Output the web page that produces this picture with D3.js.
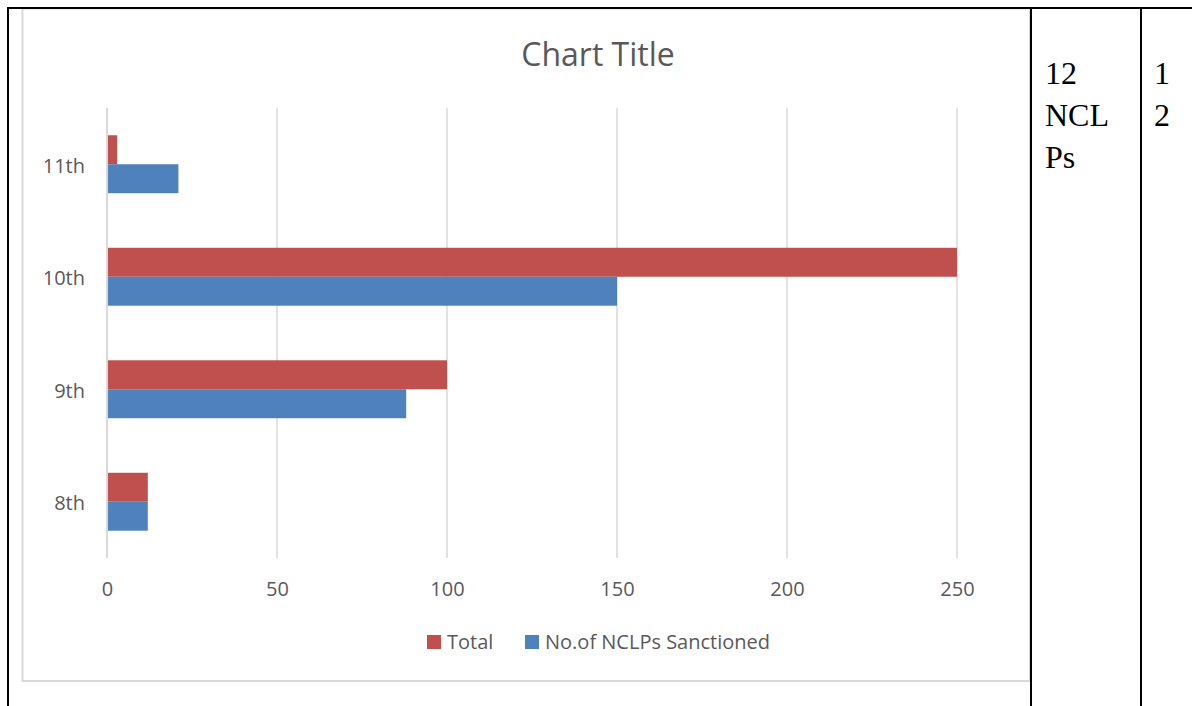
<!DOCTYPE html>
<html>
<head>
<meta charset="utf-8">
<script src="https://cdnjs.cloudflare.com/ajax/libs/d3/7.8.5/d3.min.js"></script>
<style>
  body { margin: 0; background: #fff; }
  svg { display: block; }
</style>
</head>
<body>
<script>
// ============= Data =============
const categories = ['8th', '9th', '10th', '11th'];
const totalValues = [12, 100, 250, 3];
const sanctionedValues = [12, 88, 150, 21];
const xTicks = [0, 50, 100, 150, 200, 250];
const seriesNames = ['Total', 'No.of NCLPs Sanctioned'];
const cellText1 = ['12', 'NCL', 'Ps'];
const cellText2 = ['1', '2'];

const width = 1192, height = 706;
const red = '#c0504d', blue = '#4f81bd', textColor = '#595959';

const svg = d3.select('body').append('svg')
  .attr('width', width)
  .attr('height', height);

// ============= Table frame =============
// chart area border (light grey)
svg.append('rect')
  .attr('x', 22.5).attr('y', 8.5)
  .attr('width', 1030 - 22.5).attr('height', 681 - 8.5)
  .attr('fill', 'none')
  .attr('stroke', '#d9d9d9')
  .attr('stroke-width', 2);

const frame = svg.append('g')
  .attr('stroke', '#000')
  .attr('stroke-width', 2);

frame.append('line').attr('x1', 7).attr('x2', width).attr('y1', 8).attr('y2', 8);
frame.append('line').attr('x1', 8).attr('x2', 8).attr('y1', 7).attr('y2', height);
frame.append('line').attr('x1', 1031).attr('x2', 1031).attr('y1', 7).attr('y2', height);
frame.append('line').attr('x1', 1141).attr('x2', 1141).attr('y1', 7).attr('y2', height);

// table cell text
const serif = '"Liberation Serif", "Times New Roman", serif';
svg.append('g').selectAll('text')
  .data(cellText1)
  .join('text')
  .attr('x', 1045)
  .attr('y', (d, i) => 84 + i * 42)
  .attr('font-family', serif)
  .attr('font-size', 32)
  .attr('fill', '#000')
  .text(d => d);

svg.append('g').selectAll('text')
  .data(cellText2)
  .join('text')
  .attr('x', 1154)
  .attr('y', (d, i) => 84 + i * 42)
  .attr('font-family', serif)
  .attr('font-size', 32)
  .attr('fill', '#000')
  .text(d => d);

// ============= Chart =============
const font = '"Open Sans", sans-serif';
const plot = {left: 107, right: 957, top: 108, bottom: 558};

const x = d3.scaleLinear()
  .domain([0, 250])
  .range([plot.left, plot.right]);

// categories run bottom-up like Excel
const y = d3.scaleBand()
  .domain(categories)
  .range([plot.bottom, plot.top])
  .paddingInner(0.485)
  .paddingOuter(0.2425);

const sub = d3.scaleBand()
  .domain(seriesNames)
  .range([0, y.bandwidth()]);

// title
svg.append('text')
  .attr('x', 598)
  .attr('y', 66)
  .attr('text-anchor', 'middle')
  .attr('font-family', font)
  .attr('font-size', 32)
  .attr('fill', textColor)
  .text('Chart Title');

// gridlines
svg.append('g').selectAll('line')
  .data(xTicks)
  .join('line')
  .attr('x1', d => x(d)).attr('x2', d => x(d))
  .attr('y1', plot.top).attr('y2', plot.bottom)
  .attr('stroke', '#d9d9d9')
  .attr('stroke-width', d => d === 0 ? 2 : 1.5);

// x axis labels
const xAxis = svg.append('g')
  .attr('transform', 'translate(0,' + plot.bottom + ')')
  .call(d3.axisBottom(x).tickValues(xTicks).tickSize(0).tickPadding(24));
xAxis.select('.domain').remove();
xAxis.selectAll('text')
  .attr('font-family', font)
  .attr('font-size', 20)
  .attr('fill', textColor);

// y axis labels
const yAxis = svg.append('g')
  .attr('transform', 'translate(' + plot.left + ',0)')
  .call(d3.axisLeft(y).tickSize(0).tickPadding(22));
yAxis.select('.domain').remove();
yAxis.selectAll('text')
  .attr('font-family', font)
  .attr('font-size', 20)
  .attr('dy', '0.42em')
  .attr('fill', textColor);

// bars
const rows = categories.map((c, i) => ({
  cat: c,
  vals: [
    {name: seriesNames[0], value: totalValues[i], color: red},
    {name: seriesNames[1], value: sanctionedValues[i], color: blue}
  ]
}));

svg.append('g').selectAll('g')
  .data(rows)
  .join('g')
  .attr('transform', d => 'translate(0,' + y(d.cat) + ')')
  .selectAll('rect')
  .data(d => d.vals)
  .join('rect')
  .attr('x', x(0) + 1)
  .attr('y', d => sub(d.name))
  .attr('width', d => x(d.value) - x(0) - 1)
  .attr('height', sub.bandwidth())
  .attr('fill', d => d.color);

// legend
const legendItems = [
  {name: seriesNames[0], color: red, x: 427},
  {name: seriesNames[1], color: blue, x: 525}
];
const legend = svg.append('g').selectAll('g')
  .data(legendItems)
  .join('g')
  .attr('transform', d => 'translate(' + d.x + ',635)');
legend.append('rect')
  .attr('width', 14).attr('height', 14)
  .attr('fill', d => d.color);
legend.append('text')
  .attr('x', 20).attr('y', 14)
  .attr('font-family', font)
  .attr('font-size', 20)
  .attr('fill', textColor)
  .text(d => d.name);
</script>
</body>
</html>
